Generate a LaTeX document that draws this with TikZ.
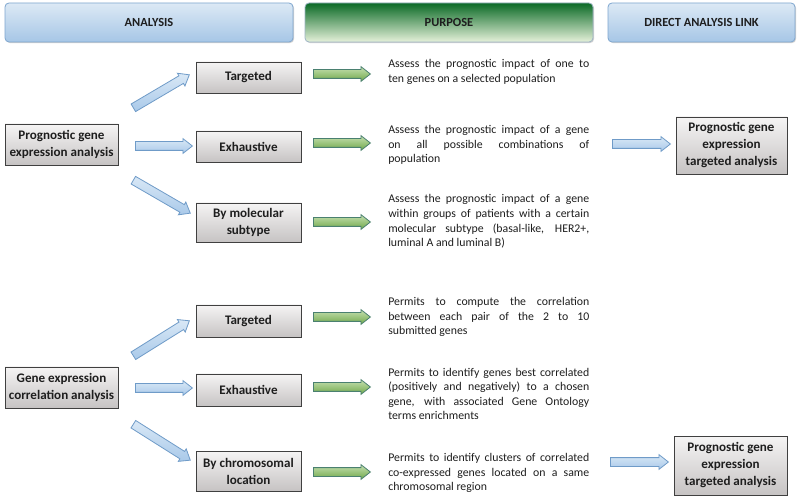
\documentclass[tikz,border=0pt]{standalone}
\usepackage{fontspec}
\setmainfont{Carlito}
\usetikzlibrary{shapes.arrows,shadows,calc}
\definecolor{hbTop}{HTML}{DCE9F5}
\definecolor{hbBot}{HTML}{A6C6E6}
\definecolor{hbDraw}{HTML}{7EA6CF}
\definecolor{hgTop}{HTML}{0B6A26}
\definecolor{hgBot}{HTML}{E6F1DA}
\definecolor{hgDraw}{HTML}{9DB4C6}
\definecolor{gTop}{HTML}{F5F4F4}
\definecolor{gBot}{HTML}{C6C3C3}
\definecolor{gDraw}{HTML}{404040}
\definecolor{baTop}{HTML}{D9E8F6}
\definecolor{baBot}{HTML}{A9C9E9}
\definecolor{baDraw}{HTML}{6F9BC8}
\definecolor{gaTop}{HTML}{C6E0B0}
\definecolor{gaBot}{HTML}{6FA84A}
\definecolor{gaDraw}{HTML}{4A8070}
\definecolor{txt}{HTML}{1E1E1E}
\newcommand\blockarr[3]{\path let \p1=(#2), \p2=(#3), \n1={atan2(\y2-\y1,\x2-\x1)}, \n2={veclen(\x2-\x1,\y2-\y1)} in node[#1, rotate=\n1, minimum height=\n2, anchor=tail] at (\p1) {};}
\tikzset{
  hdrbox/.style={rounded corners=3pt, minimum height=29.25pt, inner sep=0pt, text=txt,
     font=\bfseries\fontsize{9.3}{11}\selectfont,
     drop shadow={shadow xshift=0.8pt, shadow yshift=-0.8pt, opacity=0.35}},
  hdrblue/.style={hdrbox, top color=hbTop, bottom color=hbBot, draw=hbDraw, line width=0.6pt},
  hdrgreen/.style={hdrbox, top color=hgTop, bottom color=hgBot, draw=hgDraw, line width=0.6pt},
  gbox/.style={draw=gDraw, line width=0.7pt, top color=gTop, bottom color=gBot, align=center,
     inner sep=0pt, text=txt, font=\bfseries\fontsize{9.8}{12.75}\selectfont,
     drop shadow={shadow xshift=1pt, shadow yshift=-1pt, opacity=0.35}},
  ptext/.style={anchor=west, text width=150.75pt, align=justify, inner sep=0pt, text=txt,
     font=\fontsize{8.85}{10.9}\selectfont},
  barr/.style={single arrow, inner sep=0pt, text height=3pt, text depth=3pt,
     single arrow head extend=2.25pt, single arrow tip angle=76,
     single arrow head indent=0pt, shape border uses incircle=false,
     draw=baDraw, line width=0.6pt, top color=baTop, bottom color=baBot},
  garr/.style={barr, draw=gaDraw, top color=gaTop, bottom color=gaBot},
}
\begin{document}
\begin{tikzpicture}[x=0.75pt,y=-0.75pt]
\useasboundingbox (0,0) rectangle (800,502);
\fill[white] (0,0) rectangle (800,502);
% headers
\node[hdrblue, minimum width=216pt] (hA) at (149,22.5) {ANALYSIS};
\node[hdrgreen, minimum width=216pt] (hP) at (449,22.5) {PURPOSE};
\node[hdrblue, minimum width=140.25pt] (hD) at (701.5,22.5) {DIRECT ANALYSIS LINK};
% top group
\node[gbox, minimum width=84.75pt, minimum height=30.75pt] (pg) at (61.5,144.5) {Prognostic gene\\expression analysis};
\node[gbox, minimum width=78.75pt, minimum height=23.25pt] (t1) at (248.5,77.5) {Targeted};
\node[gbox, minimum width=78.75pt, minimum height=23.25pt] (e1) at (248.5,146.5) {Exhaustive};
\node[gbox, minimum width=78.75pt, minimum height=29.25pt] (m1) at (248.5,222.5) {By molecular\\subtype};
\node[gbox, minimum width=83.25pt, minimum height=42.75pt] (r1) at (731.5,145.5) {Prognostic gene\\expression\\targeted analysis};
\node[ptext] (p1) at (388,72) {Assess the prognostic impact of one to\linebreak ten genes on a selected population};
\node[ptext] (p2) at (388,145) {Assess the prognostic impact of a gene\linebreak on all possible combinations of\linebreak population};
\node[ptext] (p3) at (388,221.5) {Assess the prognostic impact of a gene\linebreak within groups of patients with a certain\linebreak molecular subtype (basal-like, HER2+,\linebreak luminal A and luminal B)};
% bottom group
\node[gbox, minimum width=84.75pt, minimum height=30.75pt] (ge) at (61.5,387.5) {Gene expression\\correlation analysis};
\node[gbox, minimum width=78.75pt, minimum height=24pt] (t2) at (248.5,321) {Targeted};
\node[gbox, minimum width=78.75pt, minimum height=24pt] (e2) at (248.5,390) {Exhaustive};
\node[gbox, minimum width=78.75pt, minimum height=30pt] (c2) at (248.5,471) {By chromosomal\\location};
\node[gbox, minimum width=84.75pt, minimum height=44.25pt] (r2) at (730.5,465.5) {Prognostic gene\\expression\\targeted analysis};
\node[ptext] (q1) at (388,317) {Permits to compute the correlation\linebreak between each pair of the 2 to 10\linebreak submitted genes};
\node[ptext] (q2) at (388,394) {Permits to identify genes best correlated\linebreak (positively and negatively) to a chosen\linebreak gene, with associated Gene Ontology\linebreak terms enrichments};
\node[ptext] (q3) at (388,473) {Permits to identify clusters of correlated\linebreak co-expressed genes located on a same\linebreak chromosomal region};
% arrow end points
\coordinate (a1s) at (133,108); \coordinate (a1e) at (189,75);
\coordinate (a2s) at (135,146); \coordinate (a2e) at (192,146);
\coordinate (a3s) at (133,180); \coordinate (a3e) at (190,213);
\coordinate (b1s) at (133,356); \coordinate (b1e) at (189,321);
\coordinate (b2s) at (135,388); \coordinate (b2e) at (192,388);
\coordinate (b3s) at (133,424); \coordinate (b3e) at (190,460);
\coordinate (g1s) at (313,74);  \coordinate (g1e) at (370,74);
\coordinate (g2s) at (313,143); \coordinate (g2e) at (370,143);
\coordinate (g3s) at (313,222); \coordinate (g3e) at (370,222);
\coordinate (g4s) at (313,317); \coordinate (g4e) at (370,317);
\coordinate (g5s) at (313,387); \coordinate (g5e) at (370,387);
\coordinate (g6s) at (313,472); \coordinate (g6e) at (370,472);
\coordinate (d1s) at (612,144); \coordinate (d1e) at (670,144);
\coordinate (d2s) at (610,462); \coordinate (d2e) at (668,462);
\blockarr{barr}{a1s}{a1e}
\blockarr{barr}{a2s}{a2e}
\blockarr{barr}{a3s}{a3e}
\blockarr{barr}{b1s}{b1e}
\blockarr{barr}{b2s}{b2e}
\blockarr{barr}{b3s}{b3e}
\blockarr{garr}{g1s}{g1e}
\blockarr{garr}{g2s}{g2e}
\blockarr{garr}{g3s}{g3e}
\blockarr{garr}{g4s}{g4e}
\blockarr{garr}{g5s}{g5e}
\blockarr{garr}{g6s}{g6e}
\blockarr{barr}{d1s}{d1e}
\blockarr{barr}{d2s}{d2e}
\end{tikzpicture}
\end{document}
